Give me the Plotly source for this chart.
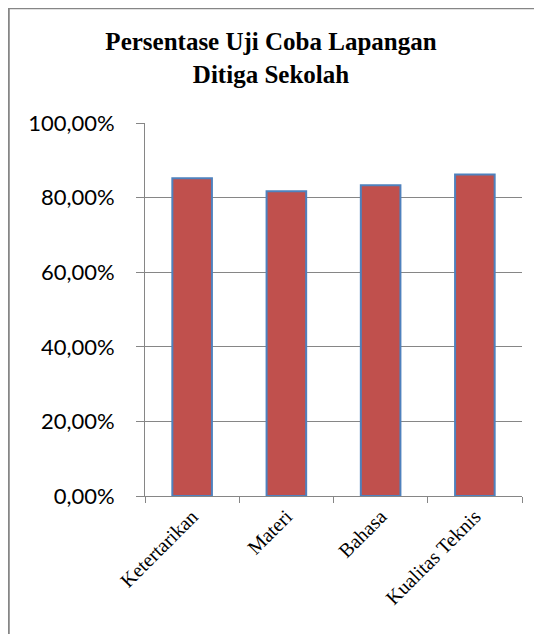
import plotly.graph_objects as go

# data
categories = ['Ketertarikan', 'Materi', 'Bahasa', 'Kualitas Teknis']
percentages = [0.852, 0.817, 0.833, 0.862]
y_ticks = [0, 0.2, 0.4, 0.6, 0.8, 1.0]

GRAY = '#868686'
SERIF = 'Liberation Serif, Times New Roman, serif'

fig = go.Figure()
fig.add_trace(go.Bar(
    x=categories,
    y=percentages,
    marker=dict(color='#C0504D', line=dict(color='#4F81BD', width=2)),
    showlegend=False,
))

# the page adds an 8px body margin, so margins are measured from there
fig.update_layout(
    width=542,
    height=634,
    margin=dict(l=137, r=28, t=115, b=146),
    paper_bgcolor='white',
    plot_bgcolor='white',
    separators=',.',
    bargap=0.58,
    title=dict(
        text='<b>Persentase Uji Coba Lapangan<br>Ditiga Sekolah</b>',
        x=263 / 542, xref='container', xanchor='center',
        y=1 - 42 / 634, yref='container', yanchor='top',
        font=dict(family=SERIF, size=25, color='black'),
    ),
)

fig.update_yaxes(
    range=[0, 1],
    tickvals=y_ticks,
    tickformat='.2%',
    showgrid=True, gridcolor=GRAY, gridwidth=1,
    showline=True, linecolor=GRAY, linewidth=1,
    ticks='outside', ticklen=8, tickcolor=GRAY,
    ticklabelstandoff=17,
    zeroline=False,
    tickfont=dict(family='Lato', size=22, color='black'),
)

fig.update_xaxes(
    showline=True, linecolor=GRAY, linewidth=1,
    ticks='outside', ticklen=6, tickcolor=GRAY,
    tickson='boundaries',
    tickangle=-45,
    tickfont=dict(family=SERIF, size=20, color='black'),
)

# outer chart-area frame (only its left and top edges fall inside the picture)
fig.add_shape(
    type='rect', xref='paper', yref='paper',
    x0=-0.362, x1=1.2, y0=-0.5, y1=1.308,
    line=dict(color=GRAY, width=2.5),
    layer='below',
)

fig.write_html('out.html')
